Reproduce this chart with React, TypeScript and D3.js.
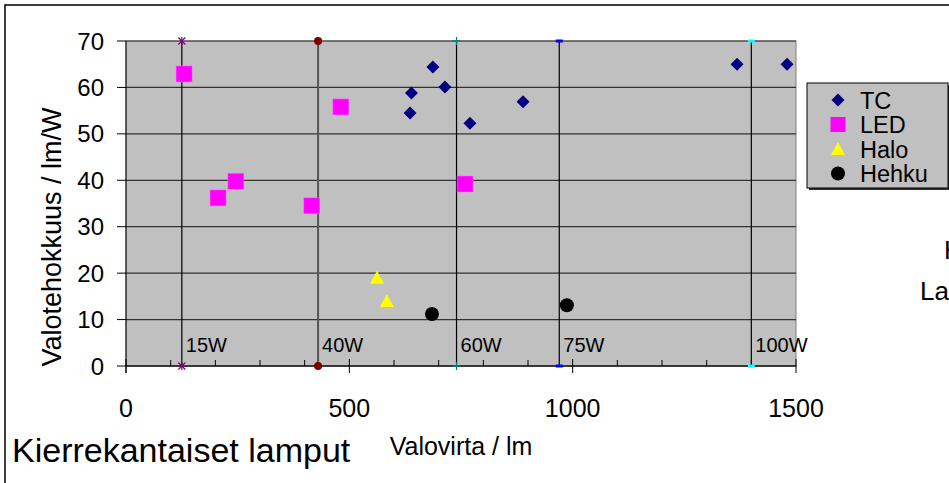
import React from "react";
import * as d3 from "d3";

// lamp series: [lumen, lm/W]
const tcPoints: [number, number][] = [
  [636, 54.5], [639, 58.8], [687, 64.4], [714, 60.1],
  [770, 52.3], [889, 56.9], [1368, 65.0], [1480, 65.0],
];
const ledPoints: [number, number][] = [
  [130, 62.9], [206, 36.2], [246, 39.8], [416, 34.5], [481, 55.8], [759, 39.2],
];
const haloPoints: [number, number][] = [
  [562, 19.0], [584, 14.0],
];
const hehkuPoints: [number, number][] = [
  [685, 11.2], [987, 13.1],
];

// reference incandescent lumen levels (vertical lines)
const wattNames = ["15W", "40W", "60W", "75W", "100W"];
const wattLumens = [125, 430, 740, 970, 1400];
const wattColors = ["#800080", "#800000", "#008080", "#0000ff", "#00ffff"];

const xTicks = [0, 500, 1000, 1500];
const yTicks = [0, 10, 20, 30, 40, 50, 60, 70];
const legendNames = ["TC", "LED", "Halo", "Hehku"];

const font = "Arial, 'Liberation Sans', sans-serif";

const App = () => {
  const margin = { left: 126, top: 41, right: 796, bottom: 366 };
  const x = d3.scaleLinear().domain([0, 1500]).range([margin.left, margin.right]);
  const y = d3.scaleLinear().domain([0, 70]).range([margin.bottom, margin.top]);
  const minorX = d3.range(0, 1501, 100);

  const diamond = (cx: number, cy: number, r: number) =>
    `M${cx},${cy - r}L${cx + r},${cy}L${cx},${cy + r}L${cx - r},${cy}Z`;
  const triangle = (cx: number, cy: number, r: number) =>
    `M${cx},${cy - r}L${cx + r},${cy + r * 0.85}L${cx - r},${cy + r * 0.85}Z`;

  const endMarker = (i: number, cx: number, cy: number, key: string) => {
    const c = wattColors[i];
    if (i === 0)
      return (
        <g key={key} stroke={c} strokeWidth={1.2}>
          <line x1={cx - 3.5} y1={cy - 3.5} x2={cx + 3.5} y2={cy + 3.5} />
          <line x1={cx - 3.5} y1={cy + 3.5} x2={cx + 3.5} y2={cy - 3.5} />
          <line x1={cx} y1={cy - 4} x2={cx} y2={cy + 4} />
        </g>
      );
    if (i === 1) return <circle key={key} cx={cx} cy={cy} r={4} fill={c} />;
    if (i === 2)
      return (
        <g key={key} stroke={c} strokeWidth={1.2}>
          <line x1={cx - 4} y1={cy} x2={cx + 4} y2={cy} />
          <line x1={cx} y1={cy - 4} x2={cx} y2={cy + 4} />
        </g>
      );
    return <rect key={key} x={cx - 3.5} y={cy - 1.5} width={7} height={3} fill={c} />;
  };

  return (
    <svg width={949} height={483} style={{ position: "absolute", left: 0, top: 0, background: "#fff" }}
      fontFamily={font}>
      <rect x={5} y={5} width={980} height={500} fill="#fff" stroke="#000" strokeWidth={1.5} />

      {/* plot area */}
      <rect x={margin.left} y={margin.top} width={margin.right - margin.left}
        height={margin.bottom - margin.top} fill="#c0c0c0" stroke="#808080" strokeWidth={1} />

      {yTicks.map(t => (
        <g key={"gy" + t}>
          <line x1={margin.left} x2={margin.right} y1={y(t)} y2={y(t)} stroke="#333" strokeWidth={1.2} />
          <line x1={117} x2={margin.left} y1={y(t)} y2={y(t)} stroke="#000" />
          <text x={104} y={y(t) + 8.5} textAnchor="end" fontSize={24}>{t}</text>
        </g>
      ))}
      <line x1={margin.left} x2={margin.left} y1={margin.top} y2={margin.bottom + 7} stroke="#000" />

      {/* x axis */}
      <line x1={margin.left} x2={margin.right} y1={y(0)} y2={y(0)} stroke="#000" />
      {minorX.map(t => {
        const major = t % 500 === 0;
        return (
          <line key={"tx" + t} x1={x(t)} x2={x(t)} y1={major ? y(0) - 7 : y(0) - 6}
            y2={major ? y(0) + 7 : y(0)} stroke="#000" />
        );
      })}
      {xTicks.map(t => (
        <text key={"lx" + t} x={x(t)} y={417} textAnchor="middle" fontSize={25}>{t}</text>
      ))}

      {/* watt reference lines */}
      {wattLumens.map((l, i) => (
        <g key={"w" + i}>
          <line x1={x(l)} x2={x(l)} y1={y(0)} y2={y(70)}
            stroke={i === 1 ? "#555" : "#000"} strokeWidth={i === 1 ? 2 : 1.2} />
          {endMarker(i, x(l), y(0), "b" + i)}
          {endMarker(i, x(l), y(70), "t" + i)}
          <text x={x(l) + 4} y={352} fontSize={20}>{wattNames[i]}</text>
        </g>
      ))}

      {/* series */}
      {tcPoints.map((d, i) => (
        <path key={"tc" + i} d={diamond(x(d[0]), y(d[1]), 6.5)} fill="#000080" />
      ))}
      {ledPoints.map((d, i) => (
        <rect key={"led" + i} x={x(d[0]) - 8} y={y(d[1]) - 8} width={16} height={16}
          fill="#ff00ff" stroke="#ff66ff" strokeWidth={0.5} />
      ))}
      {haloPoints.map((d, i) => (
        <path key={"h" + i} d={triangle(x(d[0]), y(d[1]), 7)} fill="#ffff00" />
      ))}
      {hehkuPoints.map((d, i) => (
        <circle key={"k" + i} cx={x(d[0])} cy={y(d[1])} r={7} fill="#000" />
      ))}

      {/* legend */}
      <rect x={809} y={85} width={141} height={105} fill="#333" />
      <rect x={807} y={83} width={141} height={105} fill="#c0c0c0" stroke="#000" strokeWidth={1} />
      {legendNames.map((n, i) => {
        const cy = 100 + i * 24.5;
        const cx = 838;
        let mark;
        if (i === 0) mark = <path d={diamond(cx, cy, 6.5)} fill="#000080" />;
        else if (i === 1) mark = <rect x={cx - 7.5} y={cy - 7.5} width={15} height={15} fill="#ff00ff" />;
        else if (i === 2) mark = <path d={triangle(cx, cy, 7)} fill="#ffff00" />;
        else mark = <circle cx={cx} cy={cy} r={7} fill="#000" />;
        return (
          <g key={"lg" + i}>
            {mark}
            <text x={860} y={cy + 8.5} fontSize={23.5}>{n}</text>
          </g>
        );
      })}

      {/* axis titles */}
      <text transform="translate(61,237) rotate(-90)" textAnchor="middle" fontSize={27}>
        Valotehokkuus / lm/W
      </text>
      <text x={461} y={455} textAnchor="middle" fontSize={25}>Valovirta / lm</text>
      <text x={12} y={462} fontSize={34}>Kierrekantaiset lamput</text>

      {/* clipped side captions */}
      <text x={944} y={259} fontSize={26}>Hehku</text>
      <text x={920} y={300} fontSize={26}>Lamput</text>
    </svg>
  );
};

export default App;
